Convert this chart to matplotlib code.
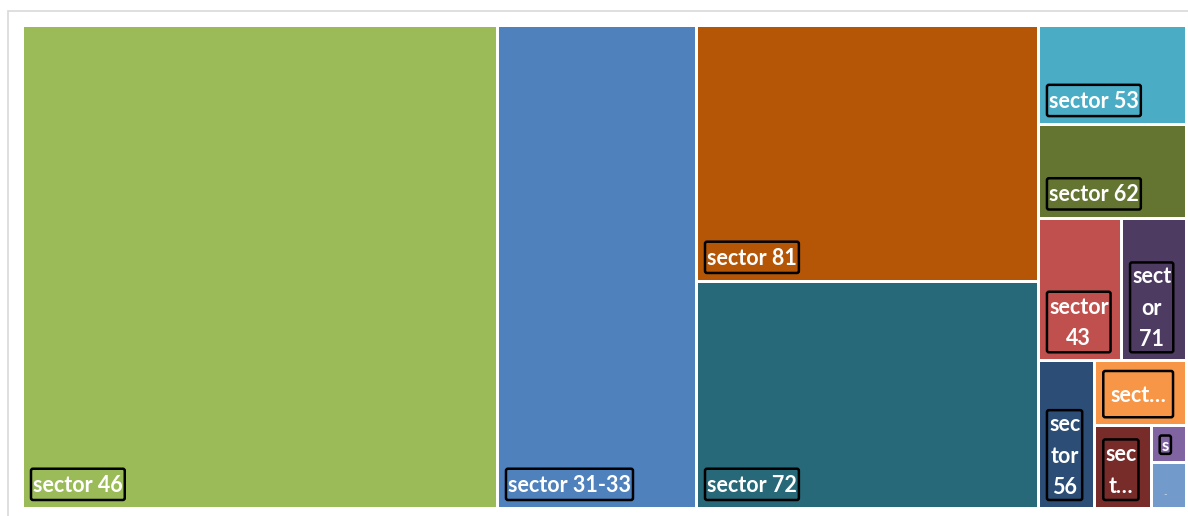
import matplotlib
matplotlib.use("Agg")
import matplotlib.pyplot as plt
from matplotlib.patches import Rectangle, FancyBboxPatch

# Sector shares (per mille of the total)
sectors = ["sector 46", "sector 31-33", "sector 81", "sector 72", "sector 53",
           "sector 62", "sector 43", "sector 71", "sector 56", "sector a",
           "sector b", "sector c", "sector d"]
values = [408.1, 171.0, 155.7, 138.1, 26.1, 24.6, 21.1, 16.5, 14.8, 10.6,
          8.3, 2.3, 2.9]
# Text shown on each tile (wrapped / truncated to fit the tile)
tile_labels = ["sector 46", "sector 31-33", "sector 81", "sector 72",
               "sector 53", "sector 62", "sector\n43", "sect\nor\n71",
               "sec\ntor\n56", "sect…", "sec\nt…", "s", "-"]
colors = ["#9BBB59", "#4F81BD", "#B55607", "#276979", "#4BACC6", "#637530",
          "#C0504D", "#4D3B62", "#2C4D75", "#F79646", "#772C2A", "#8064A2",
          "#729ACA"]

# Nesting of the slice-and-dice layout: 'h' splits left-to-right, 'v' top-to-bottom
LAYOUT = ("h", [0, 1, ("v", [2, 3]),
                ("v", [4, 5, ("h", [6, 7]),
                       ("h", [8, ("v", [9, ("h", [10, ("v", [11, 12])])])])])])

# label styling: font size (pt) and extra box padding (px) for special tiles
LABEL_PT = 15.5
label_pt = {11: 12}
extra_pad = {9: (5, 7.5)}


def node_total(node):
    if isinstance(node, int):
        return values[node]
    return sum(node_total(k) for k in node[1])


def place(node, x0, y0, x1, y1, out):
    if isinstance(node, int):
        out[node] = (x0, y0, x1, y1)
        return
    direction, kids = node
    tot = node_total(node)
    pos = x0 if direction == "h" else y0
    for k in kids:
        frac = node_total(k) / tot
        if direction == "h":
            span = (x1 - x0) * frac
            place(k, pos, y0, pos + span, y1, out)
        else:
            span = (y1 - y0) * frac
            place(k, x0, pos, x1, pos + span, out)
        pos += span


W, H = 1188, 516
fig = plt.figure(figsize=(W / 100, H / 100), dpi=100)
ax = fig.add_axes([0, 0, 1, 1])
ax.set_xlim(0, W)
ax.set_ylim(H, 0)
ax.axis("off")

# chart area frame
ax.add_patch(Rectangle((8, 11), W + 20, H + 20, facecolor="white",
                       edgecolor="#D9D9D9", linewidth=1.2))

rects = {}
place(LAYOUT, 22.5, 25.5, 1186.5, 508.5, rects)
gap = 1.5

texts = {}
for i in range(len(values)):
    x0, y0, x1, y1 = rects[i]
    ax.add_patch(Rectangle((x0 + gap, y0 + gap), x1 - x0 - 2 * gap,
                           y1 - y0 - 2 * gap, facecolor=colors[i],
                           edgecolor="none"))
    if tile_labels[i] == "-":
        ax.text(x0 + gap + 13, y1 - gap - 12, "-", color="#C8D8EC",
                fontsize=7, ha="center", va="center", family="Lato")
        continue
    pt = label_pt.get(i, LABEL_PT)
    texts[i] = ax.text(0, 0, tile_labels[i], color="white", fontsize=pt,
                       fontweight="bold", family="Lato", ha="center",
                       va="center", multialignment="center",
                       linespacing=1.62, zorder=4)

fig.canvas.draw()
renderer = fig.canvas.get_renderer()

for i, t in texts.items():
    x0, y0, x1, y1 = rects[i]
    pt = label_pt.get(i, LABEL_PT)
    px = pt * 100 / 72
    nlines = tile_labels[i].count("\n") + 1
    ex, ey = extra_pad.get(i, (0, 0))
    tw = t.get_window_extent(renderer).width
    bw = tw + 4 + 2 * ex
    bh = (px * 1.36 * nlines + 2 if pt == LABEL_PT else px * 1.1) + 2 * ey
    bx0 = x0 + gap + 7
    by1 = y1 - gap - 7
    ax.add_patch(FancyBboxPatch((bx0, by1 - bh), bw, bh,
                                boxstyle="round,pad=0,rounding_size=2",
                                facecolor=colors[i], edgecolor="black",
                                linewidth=1.8, zorder=3))
    t.set_position((bx0 + bw / 2, by1 - bh / 2 + 1))

fig.savefig("out.png", dpi=100)
